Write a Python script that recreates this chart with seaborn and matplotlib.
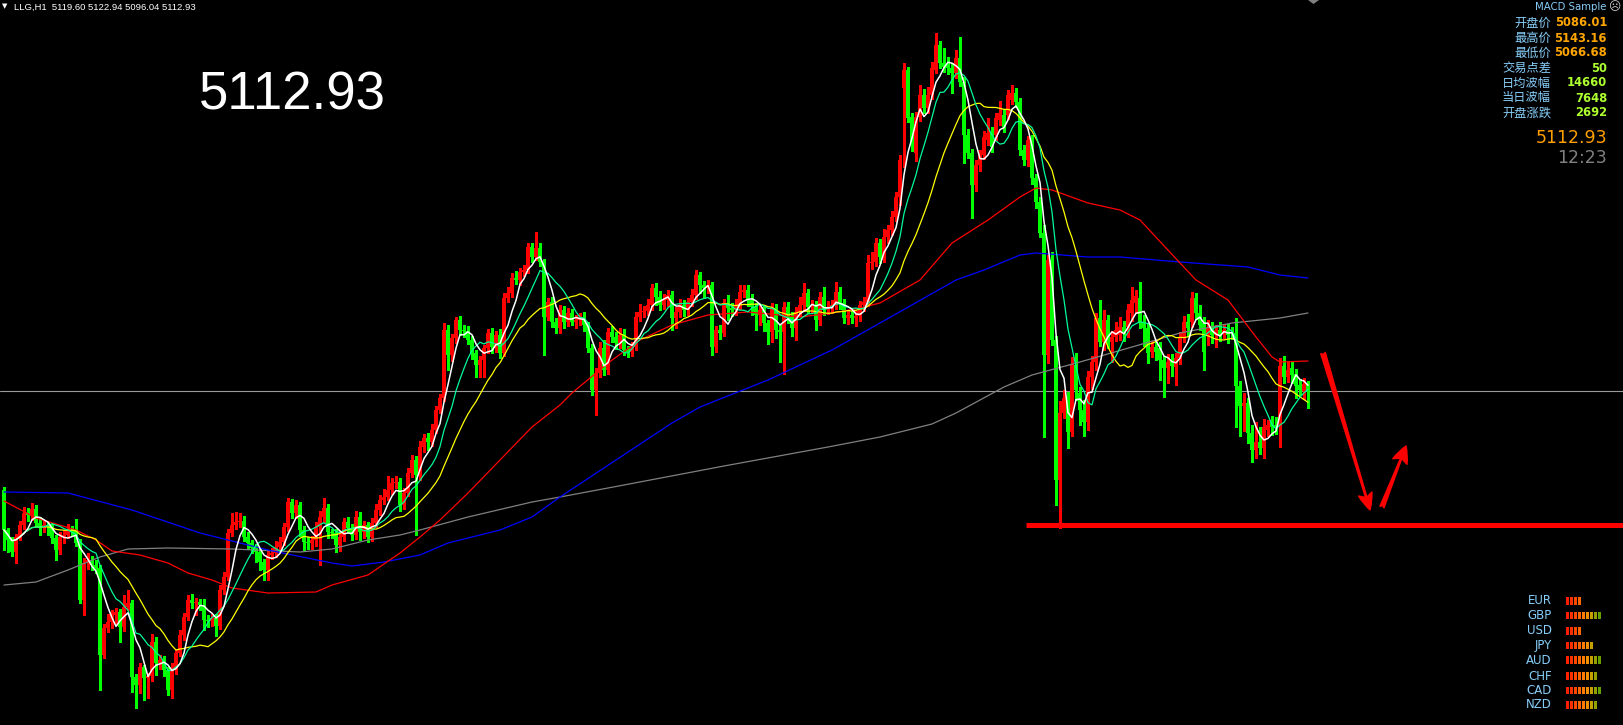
import numpy as np
import pandas as pd
import matplotlib
matplotlib.use("Agg")
import matplotlib.pyplot as plt
from matplotlib.patches import Polygon
import seaborn as sns

# ---------------------------------------------------------------- data
symbol = "LLG,H1"
last_bar = [5119.60, 5122.94, 5096.04, 5112.93]      # open high low close
last_price = 5112.93
support_level = 4979

opens = [
    5014, 4974, 4964, 4952, 4967, 4979, 4991, 4989, 4995, 4981,
    4977, 4979, 4977, 4966, 4954, 4967, 4969, 4974, 4973, 4961,
    4904, 4941, 4944, 4939, 4936, 4849, 4876, 4882, 4889, 4892,
    4877, 4897, 4901, 4827, 4819, 4837, 4826, 4828, 4862, 4841,
    4844, 4834, 4814, 4834, 4851, 4869, 4887, 4904, 4901, 4902,
    4899, 4884, 4883, 4886, 4878, 4914, 4927, 4971, 4979, 4982,
    4983, 4967, 4961, 4956, 4952, 4942, 4934, 4949, 4951, 4957,
    4962, 4977, 5002, 4991, 4999, 4974, 4962, 4961, 4964, 4977,
    4987, 4996, 4972, 4971, 4959, 4967, 4982, 4976, 4969, 4987,
    4972, 4979, 4967, 4981, 4994, 5004, 5007, 5014, 5021, 5022,
    4999, 5011, 5031, 5044, 5029, 5057, 5066, 5062, 5074, 5094,
    5106, 5174, 5149, 5166, 5184, 5174, 5173, 5164, 5151, 5139,
    5144, 5156, 5171, 5157, 5169, 5151, 5206, 5211, 5226, 5224,
    5232, 5234, 5257, 5247, 5256, 5242, 5187, 5202, 5182, 5176,
    5194, 5182, 5191, 5182, 5184, 5187, 5179, 5156, 5114, 5131,
    5156, 5134, 5172, 5167, 5161, 5169, 5154, 5152, 5157, 5187,
    5192, 5193, 5199, 5216, 5207, 5199, 5204, 5209, 5186, 5192,
    5199, 5194, 5202, 5209, 5229, 5219, 5216, 5219, 5157, 5174,
    5171, 5201, 5196, 5194, 5199, 5212, 5214, 5204, 5197, 5189,
    5194, 5181, 5172, 5196, 5174, 5172, 5197, 5187, 5176, 5192,
    5199, 5211, 5197, 5199, 5184, 5207, 5194, 5197, 5199, 5212,
    5201, 5186, 5189, 5186, 5188, 5199, 5202, 5241, 5242, 5261,
    5247, 5267, 5274, 5287, 5307, 5416, 5434, 5387, 5351, 5387,
    5409, 5396, 5409, 5434, 5459, 5441, 5439, 5436, 5431, 5446,
    5422, 5369, 5351, 5319, 5339, 5349, 5364, 5371, 5369, 5384,
    5389, 5389, 5404, 5411, 5402, 5354, 5344, 5364, 5326, 5302,
    5271, 5149, 5244, 5164, 5024, 5091, 5106, 5072, 5139, 5111,
    5094, 5082, 5127, 5142, 5186, 5162, 5184, 5162, 5167, 5169,
    5177, 5177, 5191, 5201, 5206, 5181, 5176, 5152, 5157, 5156,
    5144, 5136, 5144, 5137, 5146, 5167, 5182, 5182, 5206, 5191,
    5181, 5169, 5176, 5169, 5174, 5171, 5174, 5172, 5171, 5118,
    5098, 5101, 5071, 5054, 5062, 5056, 5074, 5082, 5079, 5077,
    5138, 5127, 5136, 5130, 5119, 5113, 5119.60,
]

closes = [
    4974, 4964, 4952, 4967, 4979, 4991, 4989, 4995, 4981, 4977,
    4979, 4977, 4966, 4954, 4967, 4969, 4974, 4973, 4961, 4904,
    4941, 4944, 4939, 4936, 4849, 4876, 4882, 4889, 4892, 4877,
    4897, 4901, 4827, 4819, 4837, 4826, 4828, 4862, 4841, 4844,
    4834, 4814, 4834, 4851, 4869, 4887, 4904, 4901, 4902, 4899,
    4884, 4883, 4886, 4878, 4914, 4927, 4971, 4979, 4982, 4983,
    4967, 4961, 4956, 4952, 4942, 4934, 4949, 4951, 4957, 4962,
    4977, 5002, 4991, 4999, 4974, 4962, 4961, 4964, 4977, 4987,
    4996, 4972, 4971, 4959, 4967, 4982, 4976, 4969, 4987, 4972,
    4979, 4967, 4981, 4994, 5004, 5007, 5014, 5021, 5022, 4999,
    5011, 5031, 5044, 5029, 5057, 5066, 5062, 5074, 5094, 5106,
    5174, 5149, 5166, 5184, 5174, 5173, 5164, 5151, 5139, 5144,
    5156, 5171, 5157, 5169, 5151, 5206, 5211, 5226, 5224, 5232,
    5234, 5257, 5247, 5256, 5242, 5187, 5202, 5182, 5176, 5194,
    5182, 5191, 5182, 5184, 5187, 5179, 5156, 5114, 5131, 5156,
    5134, 5172, 5167, 5161, 5169, 5154, 5152, 5157, 5187, 5192,
    5193, 5199, 5216, 5207, 5199, 5204, 5209, 5186, 5192, 5199,
    5194, 5202, 5209, 5229, 5219, 5216, 5219, 5157, 5174, 5171,
    5201, 5196, 5194, 5199, 5212, 5214, 5204, 5197, 5189, 5194,
    5181, 5172, 5196, 5174, 5172, 5197, 5187, 5176, 5192, 5199,
    5211, 5197, 5199, 5184, 5207, 5194, 5197, 5199, 5212, 5201,
    5186, 5189, 5186, 5188, 5199, 5202, 5241, 5242, 5261, 5247,
    5267, 5274, 5287, 5307, 5344, 5434, 5386, 5359, 5387, 5409,
    5396, 5409, 5436, 5459, 5441, 5437, 5436, 5431, 5446, 5422,
    5369, 5351, 5319, 5339, 5349, 5367, 5371, 5357, 5386, 5391,
    5377, 5409, 5411, 5402, 5354, 5344, 5364, 5326, 5302, 5271,
    5149, 5244, 5164, 5024, 5091, 5106, 5072, 5139, 5114, 5094,
    5082, 5127, 5142, 5186, 5162, 5184, 5162, 5167, 5174, 5177,
    5171, 5194, 5204, 5208, 5181, 5176, 5151, 5157, 5152, 5144,
    5136, 5142, 5138, 5146, 5167, 5182, 5176, 5206, 5191, 5179,
    5152, 5176, 5169, 5174, 5169, 5174, 5169, 5171, 5118, 5098,
    5101, 5071, 5054, 5062, 5056, 5077, 5079, 5077, 5076, 5138,
    5127, 5134, 5129, 5118, 5114, 5119.60, 5112.93,
]

# wick lengths above / below the candle body, in price points
upper_wick = [
    3, 2, 3, 3, 4, 6, 5, 6, 4, 6,
    4, 3, 4, 3, 5, 5, 6, 4, 12, 4,
    5, 7, 4, 5, 3, 4, 8, 5, 4, 3,
    12, 13, 3, 3, 4, 2, 3, 8, 5, 5,
    4, 3, 7, 4, 5, 4, 5, 6, 4, 3,
    6, 5, 4, 4, 5, 5, 4, 12, 10, 8,
    5, 5, 3, 4, 3, 3, 4, 5, 6, 5,
    4, 4, 3, 5, 3, 4, 5, 4, 5, 6,
    10, 4, 3, 4, 5, 4, 5, 4, 6, 5,
    4, 3, 5, 6, 5, 8, 14, 5, 6, 4,
    5, 5, 5, 4, 6, 4, 5, 6, 4, 4,
    7, 5, 4, 3, 4, 5, 5, 4, 3, 4,
    3, 4, 5, 4, 6, 5, 6, 5, 7, 4,
    5, 4, 4, 16, 5, 3, 4, 5, 4, 5,
    4, 5, 4, 5, 4, 5, 3, 4, 5, 6,
    8, 4, 6, 5, 7, 6, 4, 5, 5, 8,
    5, 6, 4, 5, 6, 6, 5, 4, 5, 6,
    5, 4, 6, 5, 3, 4, 5, 3, 4, 5,
    4, 8, 5, 6, 7, 5, 5, 6, 4, 5,
    4, 3, 5, 4, 5, 5, 5, 5, 5, 8,
    10, 4, 5, 4, 5, 10, 6, 5, 10, 5,
    4, 5, 4, 5, 4, 5, 8, 10, 5, 4,
    8, 5, 6, 5, 5, 7, 3, 4, 5, 10,
    6, 8, 6, 12, 4, 15, 8, 5, 8, 21,
    5, 6, 4, 5, 5, 6, 15, 6, 5, 12,
    6, 5, 8, 5, 4, 5, 4, 5, 4, 5,
    8, 5, 8, 4, 12, 8, 6, 8, 12, 6,
    10, 6, 6, 5, 18, 10, 5, 6, 8, 10,
    6, 6, 13, 6, 16, 8, 5, 6, 5, 6,
    4, 8, 6, 5, 5, 6, 8, 6, 5, 8,
    6, 8, 6, 5, 8, 6, 6, 5, 15, 5,
    10, 5, 8, 20, 15, 8, 5, 6, 8, 8,
    10, 8, 6, 5, 6, 6, 3.34,
]

lower_wick = [
    20, 12, 4, 11, 3, 4, 6, 5, 3, 8,
    5, 8, 5, 10, 4, 6, 3, 4, 3, 3,
    15, 6, 5, 5, 35, 3, 4, 6, 10, 15,
    4, 3, 15, 23, 8, 22, 20, 5, 12, 6,
    6, 5, 8, 4, 3, 5, 3, 5, 12, 5,
    10, 6, 5, 10, 3, 4, 3, 3, 4, 5,
    4, 6, 5, 10, 8, 10, 10, 4, 4, 5,
    3, 4, 5, 5, 6, 8, 6, 6, 6, 38,
    5, 6, 5, 7, 6, 4, 4, 5, 4, 8,
    6, 5, 4, 4, 5, 4, 3, 4, 5, 6,
    4, 3, 4, 60, 5, 5, 8, 4, 3, 3,
    3, 15, 6, 5, 5, 6, 4, 6, 12, 12,
    17, 5, 6, 5, 5, 3, 4, 4, 4, 5,
    4, 3, 5, 3, 4, 38, 3, 5, 5, 5,
    6, 4, 3, 6, 5, 6, 4, 5, 25, 4,
    5, 4, 5, 6, 5, 5, 5, 4, 3, 4,
    5, 4, 5, 8, 5, 4, 6, 12, 10, 5,
    6, 5, 4, 4, 8, 10, 5, 8, 5, 6,
    3, 12, 6, 5, 4, 5, 6, 8, 15, 10,
    8, 12, 10, 8, 30, 42, 6, 8, 12, 4,
    6, 6, 5, 10, 5, 5, 4, 6, 4, 6,
    5, 6, 5, 8, 5, 6, 4, 6, 4, 6,
    5, 6, 5, 4, 8, 79, 4, 6, 8, 4,
    5, 5, 4, 3, 5, 5, 6, 20, 5, 4,
    28, 5, 33, 6, 6, 4, 5, 5, 5, 5,
    5, 4, 4, 5, 5, 5, 6, 6, 6, 4,
    82, 8, 5, 25, 48, 5, 16, 4, 10, 15,
    14, 8, 12, 8, 4, 8, 6, 20, 4, 5,
    8, 10, 8, 10, 5, 18, 10, 5, 8, 20,
    29, 15, 10, 18, 6, 5, 8, 5, 6, 5,
    18, 10, 8, 12, 6, 5, 8, 6, 41, 30,
    25, 10, 12, 8, 6, 10, 6, 8, 6, 20,
    6, 5, 8, 12, 5, 8, 16.89,
]

# slow moving averages, sampled at bar indices
ma60_bar = [0, 8, 18, 23, 27, 34, 41, 46, 52, 57, 66, 78, 82, 91, 99, 104, 109,
            116, 124, 132, 139, 142, 151, 159, 167, 176, 186, 199, 207, 214, 219,
            229, 237, 246, 254, 258, 262, 271, 279, 284, 294, 298, 302, 306, 313,
            317, 319, 326]
ma60_val = [5003, 4986, 4974, 4964, 4953, 4949, 4941, 4931, 4924, 4916, 4911,
            4912, 4919, 4929, 4951, 4967, 4984, 5011, 5044, 5077, 5099, 5111,
            5141, 5164, 5179, 5189, 5192, 5187, 5191, 5196, 5201, 5224, 5261,
            5284, 5307, 5316, 5314, 5301, 5294, 5284, 5241, 5224, 5214, 5204,
            5167, 5147, 5142, 5143]

ma120_bar = [0, 16, 32, 49, 66, 82, 87, 95, 104, 111, 124, 132, 139, 167, 174,
             191, 207, 219, 238, 245, 254, 258, 271, 279, 294, 311, 319, 326]
ma120_val = [5012, 5011, 4994, 4971, 4954, 4941, 4938, 4942, 4949, 4961, 4974,
             4987, 5007, 5081, 5097, 5124, 5154, 5181, 5224, 5234, 5249, 5251,
             5247, 5247, 5242, 5237, 5229, 5226]

ma240_bar = [0, 8, 16, 24, 31, 41, 57, 74, 82, 91, 99, 104, 116, 132, 139, 155,
             180, 206, 219, 232, 238, 244, 250, 257, 269, 282, 294, 307, 319, 326]
ma240_val = [4919, 4922, 4934, 4947, 4955, 4956, 4955, 4952, 4955, 4964, 4969,
             4974, 4987, 5002, 5007, 5019, 5038, 5057, 5067, 5080, 5091, 5104,
             5117, 5129, 5142, 5157, 5171, 5181, 5186, 5191]

info_labels = ["开盘价", "最高价", "最低价", "交易点差", "日均波幅", "当日波幅", "开盘涨跌"]
info_values = ["5086.01", "5143.16", "5066.68", "50", "14660", "7648", "2692"]
clock_text = "12:23"

currencies = ["EUR", "GBP", "USD", "JPY", "AUD", "CHF", "CAD", "NZD"]
strength = [4, 9, 4, 7, 9, 8, 9, 8]

# ---------------------------------------------------------------- style
sns.set_theme(style="dark", rc={"axes.facecolor": "black",
                                "figure.facecolor": "black",
                                "savefig.facecolor": "black"})
plt.rcParams["font.family"] = ["DejaVu Sans"]
CJK = ["Noto Sans CJK SC", "DejaVu Sans"]

W, H = 1623, 725
fig = plt.figure(figsize=(W / 100, H / 100), dpi=100)
ax = fig.add_axes([0, 0, 1, 1])
ax.set_facecolor("black")
ax.axis("off")


def fx(x):
    return x / W


def fy(y):
    return 1 - y / H


# ---------------------------------------------------------------- candles
o = np.asarray(opens, float)
c = np.asarray(closes, float)
bar = np.arange(len(c))
top = np.maximum(o, c)
bot = np.minimum(o, c)
high = top + np.asarray(upper_wick, float)
low = bot - np.asarray(lower_wick, float)
rising = c >= o
col = np.where(rising, "#ff0000", "#00ff00")

ax.axhline(last_price, color="#9a9a9a", lw=0.8, zorder=1)
ax.vlines(bar, low, high, colors=col, lw=0.75, zorder=2, antialiased=False)
ax.bar(bar, np.maximum(top - bot, 1.2), bottom=bot, width=0.8,
       color=col, linewidth=0, zorder=3, antialiased=False)

# ---------------------------------------------------------------- averages
prices = pd.DataFrame({"bar": bar, "close": c})
prices["ma5"] = prices["close"].rolling(5, min_periods=1).mean()
prices["ma10"] = prices["close"].rolling(10, min_periods=1).mean()
prices["ma20"] = prices["close"].rolling(20, min_periods=1).mean()

slow = [(ma240_bar, ma240_val, "#808080"),
        (ma120_bar, ma120_val, "#0000ff"),
        (ma60_bar, ma60_val, "#ff0000")]
for xs, ys, colr in slow:
    sns.lineplot(x=xs, y=ys, color=colr, lw=0.9, ax=ax, zorder=4)

for name, colr, lw in [("ma20", "#ffff00", 0.9), ("ma10", "#00fa9a", 0.9),
                       ("ma5", "#ffffff", 1.1)]:
    sns.lineplot(data=prices, x="bar", y=name, color=colr, lw=lw, ax=ax,
                 zorder=5)

ax.set_xlim(-1, 404.75)
ax.set_ylim(4779, 5504)
ax.axis("off")

# support line and projected path arrows
ax.hlines(support_level, 255.5, 404.75, color="#ff0000", lw=3.6, zorder=6)
ax.annotate("", xy=(341.5, 4994), xytext=(329.75, 5151),
            arrowprops=dict(arrowstyle="fancy,head_length=0.6,head_width=0.5,tail_width=0.17",
                            color="#ff0000", shrinkA=0, shrinkB=0,
                            mutation_scale=20), zorder=7)
ax.annotate("", xy=(350.5, 5058), xytext=(344.5, 4997),
            arrowprops=dict(arrowstyle="fancy,head_length=0.6,head_width=0.55,tail_width=0.16",
                            color="#ff0000", shrinkA=0, shrinkB=0,
                            mutation_scale=20), zorder=7)

# chart shift marker at the top edge
fig.patches.append(Polygon([(fx(1308), fy(0)), (fx(1319), fy(0)),
                            (fx(1313.5), fy(4))], closed=True,
                           facecolor="#808080", edgecolor="none",
                           transform=fig.transFigure, figure=fig))

# ---------------------------------------------------------------- header texts
fig.text(fx(2), fy(6.5), "▼", color="white", fontsize=5, va="center", ha="left")
ohlc_txt = "  ".join([symbol, " ".join(f"{v:.2f}" for v in last_bar)])
fig.text(fx(14), fy(7), ohlc_txt, color="white", fontsize=6.8, va="center",
         ha="left", family=["Liberation Sans", "DejaVu Sans"])
fig.text(fx(199), fy(109), f"{last_price:.2f}", color="white", fontsize=38,
         va="baseline", ha="left", family=["Liberation Sans", "DejaVu Sans"])

# ---------------------------------------------------------------- info panel
fig.text(fx(1606), fy(7), "MACD Sample", color="#87cefa", fontsize=7.3,
         va="center", ha="right")
fig.text(fx(1614), fy(7), "☹", color="#d0d0d0", fontsize=8.5, va="center",
         ha="center")
row_y = [23, 38, 53, 68, 83, 98, 113]
for k, (lab, val) in enumerate(zip(info_labels, info_values)):
    fig.text(fx(1551), fy(row_y[k]), lab, color="#87cefa", fontsize=8.8,
             va="center", ha="right", family=CJK)
    fig.text(fx(1607), fy(row_y[k]), val,
             color="#ffa500" if k < 3 else "#adff2f", fontsize=8.3,
             fontweight="bold", va="center", ha="right")
fig.text(fx(1607), fy(138), f"{last_price:.2f}", color="#ff9f00",
         fontsize=12.5, va="center", ha="right")
fig.text(fx(1607), fy(158), clock_text, color="#808080", fontsize=12.5,
         va="center", ha="right")

# ---------------------------------------------------------------- currency strength
seg_colors = ["#ff2000", "#ff3000", "#ff4800", "#ff6400", "#ff7c00",
              "#f09000", "#c4a000", "#94a000", "#64a000"]
cur_y = [601, 615.5, 631, 645.5, 660, 676, 690.5, 705]
sax = fig.add_axes([0, 0, 1, 1], facecolor="none")
sax.set_xlim(0, W)
sax.set_ylim(H, 0)
sax.axis("off")
for k, (cur, n) in enumerate(zip(currencies, strength)):
    fig.text(fx(1552), fy(cur_y[k]), cur, color="#87cefa", fontsize=8.5,
             va="center", ha="right")
    lefts = 1566 + 4 * np.arange(n)
    sax.barh([cur_y[k]] * n, [2.7] * n, left=lefts, height=7.5,
             color=seg_colors[:n], linewidth=0)

fig.savefig("out.png", dpi=100, facecolor="black")
